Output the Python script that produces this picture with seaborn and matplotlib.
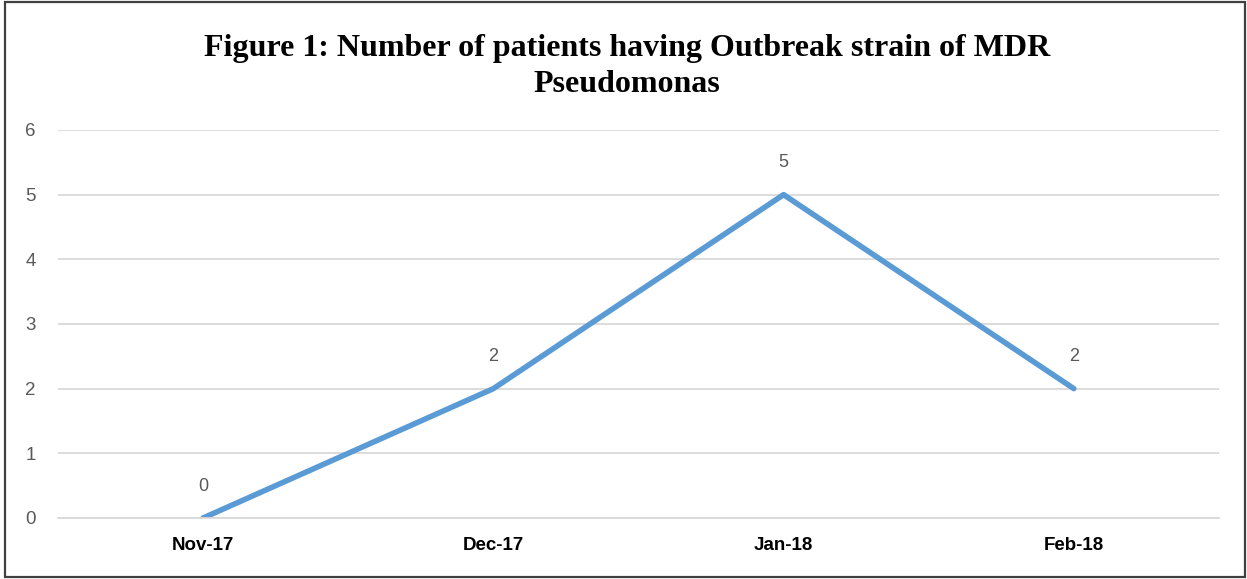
import pandas as pd
import matplotlib.pyplot as plt
import seaborn as sns
from matplotlib.patches import Rectangle
from matplotlib.ticker import FixedLocator

# chart data
months = ['Nov-17', 'Dec-17', 'Jan-18', 'Feb-18']
patients = [0, 2, 5, 2]

df = pd.DataFrame({'Month': months, 'Patients': patients})

sns.set_style('white')
plt.rcParams['font.family'] = ['Liberation Sans', 'DejaVu Sans']

fig = plt.figure(figsize=(12.47, 5.79), dpi=100)
ax = fig.add_axes([0.0465, 0.1054, 0.931, 0.6701])

sns.lineplot(data=df, x='Month', y='Patients', ax=ax, color='#5B9BD5',
             linewidth=4, solid_capstyle='round', sort=False)

# data labels above each point
for i, v in enumerate(patients):
    ax.annotate(str(v), (i, v), xytext=(0, 23), textcoords='offset points',
                ha='center', va='center', fontsize=13, color='#595959')

ax.set_xlim(-0.5, 3.5)
ax.set_ylim(0, 6)
ax.set_yticks(range(0, 7))
ax.yaxis.grid(True, color='#d9d9d9', linewidth=1.3)
ax.set_axisbelow(True)

for side in ['top', 'right', 'left']:
    ax.spines[side].set_visible(False)
ax.spines['bottom'].set_color('#d9d9d9')
ax.spines['bottom'].set_linewidth(1.3)

ax.tick_params(axis='y', length=0, pad=16, labelsize=13.5, labelcolor='#595959')
ax.tick_params(axis='x', which='major', length=0, pad=14)
ax.xaxis.set_minor_locator(FixedLocator([-0.5, 0.5, 1.5, 2.5, 3.5]))
ax.tick_params(axis='x', which='minor', length=5, width=1.3, color='#d9d9d9')
for lbl in ax.get_xticklabels():
    lbl.set_fontweight('bold')
    lbl.set_fontsize(13.5)
    lbl.set_color('black')

ax.set_xlabel('')
ax.set_ylabel('')

fig.text(0.503, 0.885, 'Figure 1: Number of patients having Outbreak strain of MDR\nPseudomonas',
         ha='center', va='center', fontsize=23, fontweight='bold', color='black',
         family=['Liberation Serif', 'DejaVu Serif'], linespacing=1.3)

# outer border
fig.patches.append(Rectangle((0.004, 0.003), 0.994, 0.994, transform=fig.transFigure,
                             fill=False, edgecolor='#404040', linewidth=1.6))

plt.savefig('out.png', dpi=100)
